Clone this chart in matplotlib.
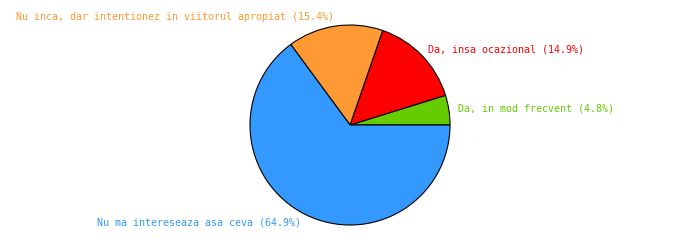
import matplotlib
matplotlib.use("Agg")
import numpy as np
import matplotlib.pyplot as plt

categories = ["Da, in mod frecvent", "Da, insa ocazional",
              "Nu inca, dar intentionez in viitorul apropiat", "Nu ma intereseaza asa ceva"]
values = [4.8, 14.9, 15.4, 64.9]
colors = ["#66cc00", "#ff0000", "#ff9933", "#3399ff"]

labels = [f"{c} ({v}%)" for c, v in zip(categories, values)]

fig = plt.figure(figsize=(7, 2.5), dpi=100)
ax = fig.add_axes([0, 0, 1, 1])

wedges, texts = ax.pie(values, colors=colors, labels=labels, startangle=0,
                       counterclock=True, center=(350, 125), radius=100,
                       labeldistance=1.09,
                       wedgeprops=dict(edgecolor="black", linewidth=0.8),
                       textprops=dict(family="DejaVu Sans Mono", fontsize=7.2),
                       frame=True)
ax.set_xlim(0, 700)
ax.set_ylim(0, 250)
ax.set_aspect("equal")
ax.axis("off")
for w, t, c in zip(wedges, texts, colors):
    t.set_color(c)
    mid = np.deg2rad((w.theta1 + w.theta2) / 2)
    t.set_horizontalalignment("left" if np.cos(mid) > 0 else "right")
    t.set_verticalalignment("center")

fig.savefig("out.png", dpi=100)
